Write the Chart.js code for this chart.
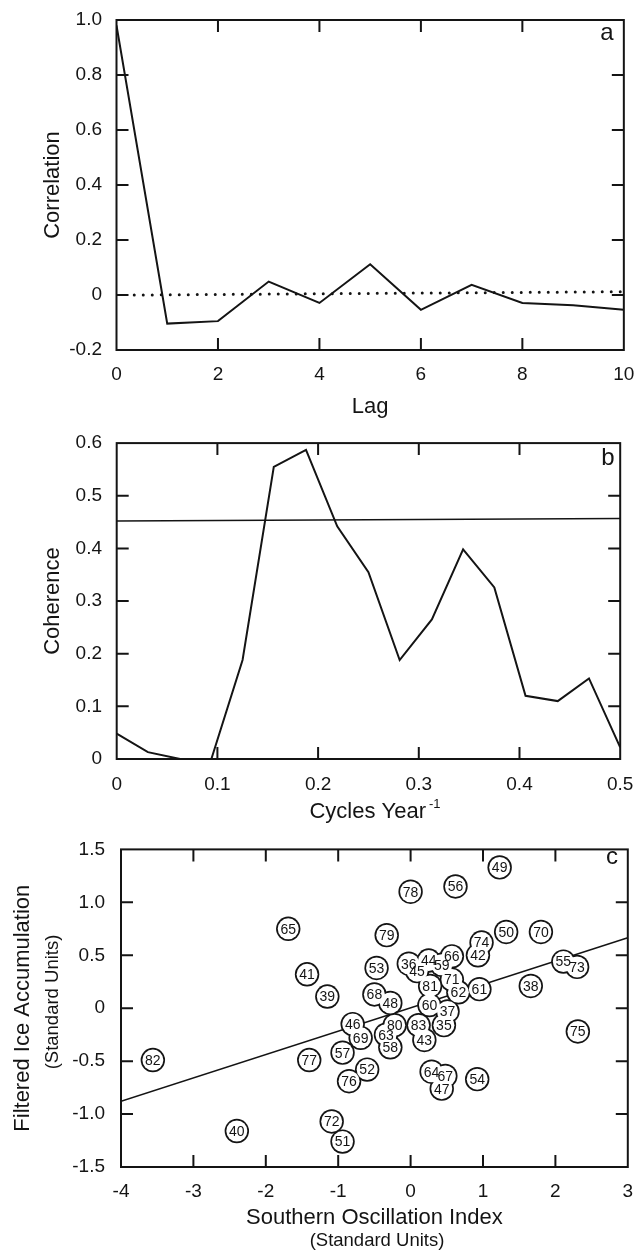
<!DOCTYPE html>
<html>
<head>
<meta charset="utf-8">
<script src="https://cdn.jsdelivr.net/npm/chart.js@4"></script>
<style>
  body { margin: 0; background: #fff; width: 640px; height: 1256px; position: relative; overflow: hidden; }
  canvas { position: absolute; left: 0; }
</style>
</head>
<body>
<canvas id="corr" width="640" height="430" style="top:0px"></canvas>
<canvas id="coh" width="640" height="410" style="top:425px"></canvas>
<canvas id="soi" width="640" height="426" style="top:830px"></canvas>
<script>
// ---- panel a: lag correlation ----
const lags = [0, 1, 2, 3, 4, 5, 6, 7, 8, 9, 10];
const correlation = [0.98, -0.104, -0.095, 0.049, -0.029, 0.112, -0.054, 0.037, -0.029, -0.037, -0.054];
const zeroLag = [0.35, 10];
const zeroCorr = [0, 0.012];
const lagTicks = ['0', '2', '4', '6', '8', '10'];
const corrTicks = ['-0.2', '0', '0.2', '0.4', '0.6', '0.8', '1.0'];

// ---- panel b: coherence ----
const freq = [0, 0.031, 0.063, 0.094, 0.125, 0.156, 0.188, 0.219, 0.25, 0.281, 0.313, 0.344, 0.375, 0.406, 0.438, 0.469, 0.5];
const coherence = [0.048, 0.013, 0, 0, 0.188, 0.555, 0.587, 0.442, 0.355, 0.188, 0.265, 0.398, 0.326, 0.12, 0.11, 0.153, 0.022];
const sigFreq = [0, 0.5];
const sigLevel = [0.452, 0.457];
const freqTicks = ['0', '0.1', '0.2', '0.3', '0.4', '0.5'];
const cohTicks = ['0', '0.1', '0.2', '0.3', '0.4', '0.5', '0.6'];

// ---- panel c: SOI vs ice accumulation, labelled by year ----
const years = [35, 36, 37, 38, 39, 40, 41, 42, 43, 44, 45, 46, 47, 48, 49, 50, 51, 52, 53, 54, 55, 56, 57, 58, 59,
               60, 61, 62, 63, 64, 65, 66, 67, 68, 69, 70, 71, 72, 73, 74, 75, 76, 77, 78, 79, 80, 81, 82, 83];
const soi = [0.46, -0.025, 0.51, 1.66, -1.15, -2.40, -1.43, 0.93, 0.19, 0.25, 0.09, -0.80, 0.43, -0.28, 1.23, 1.32, -0.94,
             -0.60, -0.47, 0.92, 2.11, 0.62, -0.94, -0.28, 0.43, 0.26, 0.95, 0.66, -0.34, 0.29, -1.69, 0.57, 0.48, -0.50,
             -0.69, 1.80, 0.57, -1.09, 2.30, 0.98, 2.31, -0.85, -1.40, 0.00, -0.33, -0.22, 0.27, -3.56, 0.11];
const ice = [-0.16, 0.42, -0.03, 0.21, 0.11, -1.16, 0.32, 0.50, -0.30, 0.45, 0.35, -0.15, -0.76, 0.05, 1.33, 0.72, -1.26,
             -0.58, 0.38, -0.67, 0.44, 1.15, -0.42, -0.37, 0.41, 0.03, 0.18, 0.15, -0.25, -0.60, 0.75, 0.49, -0.64, 0.13,
             -0.28, 0.72, 0.27, -1.07, 0.39, 0.62, -0.22, -0.69, -0.49, 1.10, 0.69, -0.16, 0.21, -0.49, -0.16];
const fitSoi = [-4, 3];
const fitIce = [-0.88, 0.665];
const soiTicks = ['-4', '-3', '-2', '-1', '0', '1', '2', '3'];
const iceTicks = ['-1.5', '-1.0', '-0.5', '0', '0.5', '1.0', '1.5'];

const FONT = '"Liberation Sans", Arial, Helvetica, sans-serif';
const INK = '#141414';
Chart.defaults.font.family = FONT;
Chart.defaults.color = INK;

const pts = (xs, ys) => xs.map((x, i) => ({ x: x, y: ys[i] }));

// box around the plot with inward ticks on all four sides
const frameTicks = {
  id: 'frameTicks',
  afterDatasetsDraw(chart) {
    const { ctx, chartArea: a, scales } = chart;
    const len = 12;
    ctx.save();
    ctx.strokeStyle = INK;
    ctx.lineWidth = 2;
    ctx.strokeRect(a.left, a.top, a.right - a.left, a.bottom - a.top);
    ctx.beginPath();
    scales.x.ticks.forEach(t => {
      const px = scales.x.getPixelForValue(t.value);
      if (px < a.left + 2 || px > a.right - 2) return;
      ctx.moveTo(px, a.bottom); ctx.lineTo(px, a.bottom - len);
      ctx.moveTo(px, a.top); ctx.lineTo(px, a.top + len);
    });
    scales.y.ticks.forEach(t => {
      const py = scales.y.getPixelForValue(t.value);
      if (py < a.top + 2 || py > a.bottom - 2) return;
      ctx.moveTo(a.left, py); ctx.lineTo(a.left + len, py);
      ctx.moveTo(a.right, py); ctx.lineTo(a.right - len, py);
    });
    ctx.stroke();
    ctx.restore();
  }
};

// loose text: panel letters, sub-titles, superscript
function notes(items) {
  return {
    id: 'notes',
    afterDraw(chart) {
      const ctx = chart.ctx;
      items.forEach(it => {
        ctx.save();
        ctx.fillStyle = INK;
        ctx.textBaseline = 'middle';
        ctx.translate(it.x, it.y);
        if (it.rot) ctx.rotate(it.rot);
        ctx.font = it.size + 'px ' + FONT;
        if (it.sup) {
          const w = ctx.measureText(it.text).width;
          ctx.font = it.supSize + 'px ' + FONT;
          const ws = ctx.measureText(it.sup).width;
          const start = -(w + 3 + ws) / 2;
          ctx.textAlign = 'left';
          ctx.fillText(it.sup, start + w + 3, -8);
          ctx.font = it.size + 'px ' + FONT;
          ctx.fillText(it.text, start, 0);
        } else {
          ctx.textAlign = 'center';
          ctx.fillText(it.text, 0, 0);
        }
        ctx.restore();
      });
    }
  };
}

function xAxis(min, max, step, labels, fitH, pad, title, titlePad) {
  return {
    type: 'linear', min: min, max: max,
    grid: { display: false }, border: { display: false },
    ticks: { stepSize: step, padding: pad, font: { size: 19 }, color: INK, maxRotation: 0, autoSkip: false,
             callback: (v, i) => labels[i] },
    title: { display: !!title, text: title, font: { size: 22 }, color: INK, padding: { top: 0, bottom: titlePad } },
    afterFit: s => { s.height = fitH; }
  };
}

function yAxis(min, max, step, labels, fitW, pad, title, titlePad) {
  return {
    type: 'linear', min: min, max: max,
    grid: { display: false }, border: { display: false },
    ticks: { stepSize: step, padding: pad, font: { size: 19 }, color: INK, autoSkip: false,
             callback: (v, i) => labels[i] },
    title: { display: true, text: title, font: { size: 22 }, color: INK, padding: { top: titlePad, bottom: 0 } },
    afterFit: s => { s.width = fitW; }
  };
}

const common = {
  responsive: false,
  animation: false,
  events: [],
  plugins: { legend: { display: false }, tooltip: { enabled: false } }
};

// panel a
new Chart(document.getElementById('corr'), {
  type: 'line',
  data: {
    datasets: [
      { data: pts(lags, correlation), borderColor: INK, borderWidth: 2, pointRadius: 0, tension: 0 },
      { data: pts(zeroLag, zeroCorr), borderColor: INK, borderWidth: 3, borderDash: [0, 9],
        borderCapStyle: 'round', pointRadius: 0 }
    ]
  },
  options: Object.assign({}, common, {
    layout: { padding: { top: 20, right: 12, left: 0, bottom: 0 } },
    scales: {
      x: xAxis(0, 10, 2, lagTicks, 80, 5.6, 'Lag', 9.8),
      y: yAxis(-0.2, 1.0, 0.2, corrTicks, 116.5, 6.5, 'Correlation', 39.8)
    }
  }),
  plugins: [frameTicks, notes([{ text: 'a', x: 607, y: 33, size: 24 }])]
});

// panel b
new Chart(document.getElementById('coh'), {
  type: 'line',
  data: {
    datasets: [
      { data: pts(freq, coherence), borderColor: INK, borderWidth: 2, pointRadius: 0, tension: 0 },
      { data: pts(sigFreq, sigLevel), borderColor: INK, borderWidth: 1.5, pointRadius: 0 }
    ]
  },
  options: Object.assign({}, common, {
    layout: { padding: { top: 10, right: 12, left: 0, bottom: 0 } },
    scales: {
      x: xAxis(0, 0.5, 0.1, freqTicks, 76, 6.6, '', 0),
      y: yAxis(0, 0.6, 0.1, cohTicks, 116.7, 6.7, 'Coherence', 39.8)
    }
  }),
  plugins: [frameTicks, notes([
    { text: 'b', x: 608, y: 33, size: 24 },
    { text: 'Cycles Year', sup: '-1', x: 375, y: 387, size: 22, supSize: 13 }
  ])]
});

// panel c
const yearLabels = {
  id: 'yearLabels',
  afterDatasetsDraw(chart) {
    const meta = chart.getDatasetMeta(0);
    const ctx = chart.ctx;
    ctx.save();
    ctx.font = '14px ' + FONT;
    ctx.fillStyle = INK;
    ctx.textAlign = 'center';
    ctx.textBaseline = 'middle';
    meta.data.forEach((p, i) => ctx.fillText(String(years[i]), p.x, p.y + 1));
    ctx.restore();
  }
};

new Chart(document.getElementById('soi'), {
  type: 'scatter',
  data: {
    datasets: [
      { data: pts(soi, ice), pointRadius: 10.5, pointHoverRadius: 10.5, backgroundColor: '#fff', borderWidth: 0, order: 1 },
      { data: pts(soi, ice), pointRadius: 12.2, pointHoverRadius: 12.2, backgroundColor: INK, borderWidth: 0, order: 2 },
      { data: pts(fitSoi, fitIce), showLine: true, borderColor: INK, borderWidth: 1.6, pointRadius: 0, order: 3 }
    ]
  },
  options: Object.assign({}, common, {
    layout: { padding: { top: 7, right: 7, left: 0, bottom: 0 } },
    scales: {
      x: xAxis(-4, 3, 1, soiTicks, 89, 5.6, 'Southern Oscillation Index', 24.8),
      y: yAxis(-1.5, 1.5, 0.5, iceTicks, 121, 8, 'Filtered Ice Accumulation', 9.8)
    }
  }),
  plugins: [yearLabels, frameTicks, notes([
    { text: 'c', x: 612, y: 27, size: 24 },
    { text: '(Standard Units)', x: 377, y: 411, size: 18.5 },
    { text: '(Standard Units)', x: 53, y: 172, size: 18.5, rot: -Math.PI / 2 }
  ])]
});
</script>
</body>
</html>
